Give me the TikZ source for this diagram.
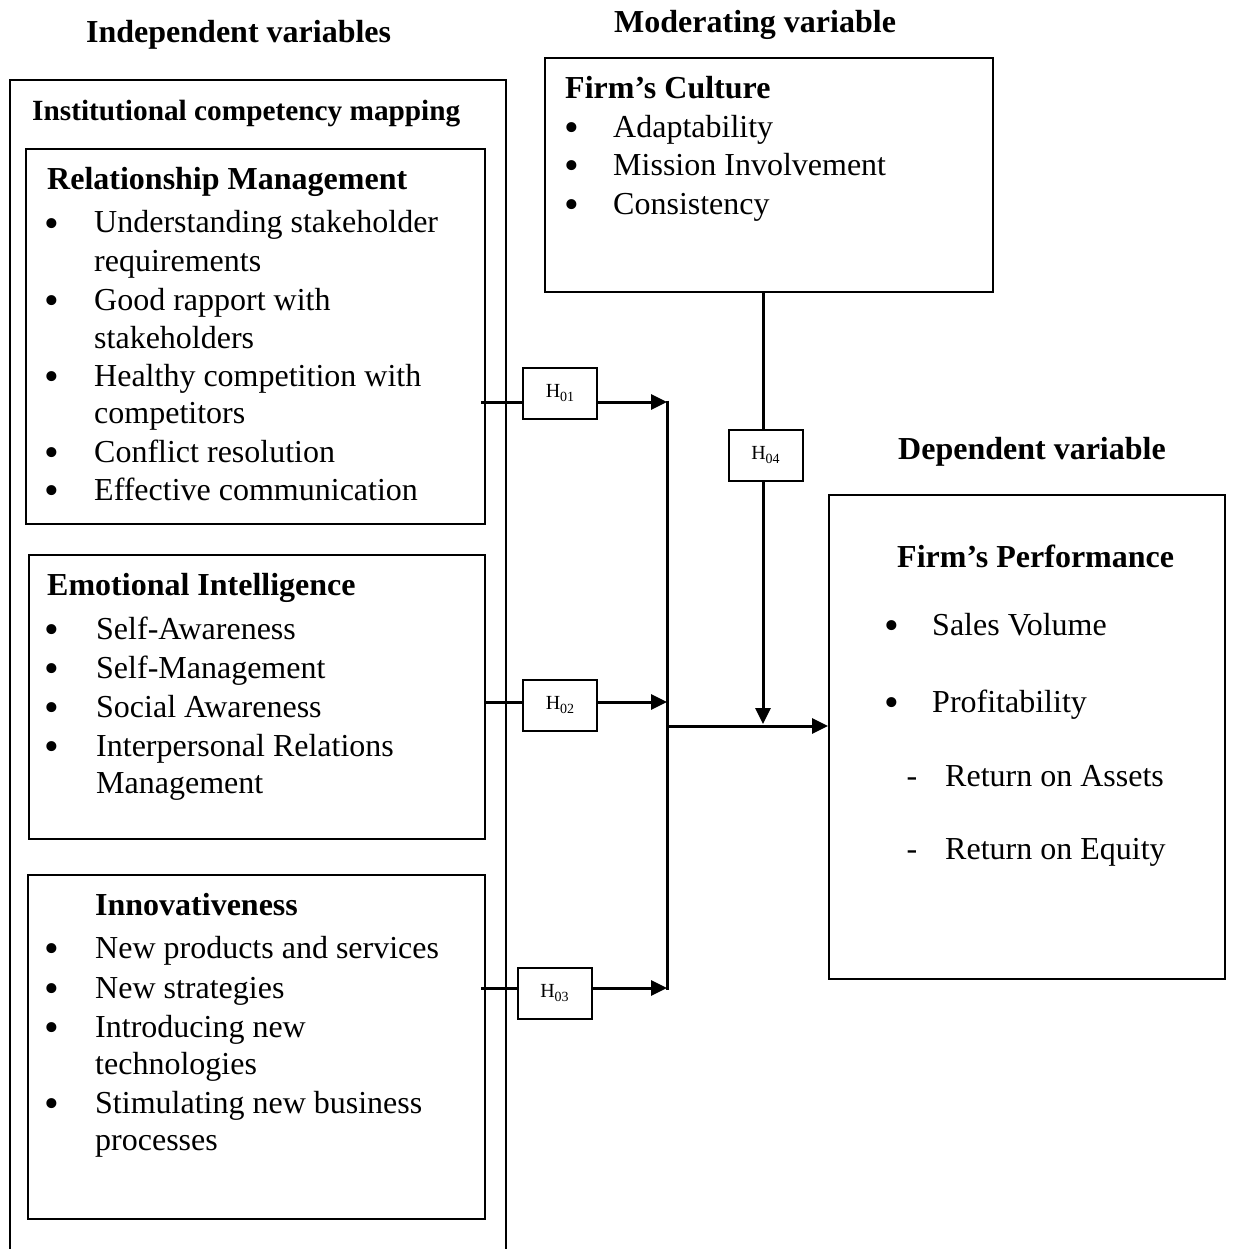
\documentclass[tikz,border=0pt]{standalone}
\usepackage{fontspec}
\setmainfont{Liberation Serif}
\usetikzlibrary{arrows.meta}
\newcommand{\hlab}[1]{H\raisebox{-4pt}{\fontsize{14}{15}\selectfont #1}}
\begin{document}
\begin{tikzpicture}[x=1pt,y=-1pt,
  box/.style={draw=black, line width=2pt, rectangle, inner sep=0pt, anchor=north west},
  conn/.style={line width=3pt},
  arr/.style={conn, -{Triangle[length=16pt,width=15pt]}},
  hbox/.style={draw=black, line width=2pt, fill=white, minimum width=74pt, minimum height=51pt, inner sep=0pt, font=\fontsize{20}{22}\selectfont},
  txt/.style={anchor=base west, inner sep=0pt, font=\fontsize{32}{38}\selectfont},
  hd/.style={anchor=base west, inner sep=0pt, font=\fontsize{32}{38}\selectfont\bfseries},
  hds/.style={anchor=base west, inner sep=0pt, font=\fontsize{29.3}{34}\selectfont\bfseries},
  bul/.style={anchor=base, inner sep=0pt, yshift=-4pt, font=\fontsize{42}{44}\selectfont},
  dsh/.style={anchor=base, inner sep=0pt, font=\fontsize{32}{38}\selectfont},
]
\useasboundingbox (0,0) rectangle (1232,1249);

% outer (open) box
\draw[line width=2pt] (10,1249) -- (10,80) -- (506,80) -- (506,1249);

% boxes
\node[box, minimum width=459pt, minimum height=375pt] (rm) at (25,148) {};
\node[box, minimum width=456pt, minimum height=284pt] (ei) at (28,554) {};
\node[box, minimum width=457pt, minimum height=344pt] (inn) at (27,874) {};
\node[box, minimum width=448pt, minimum height=234pt] (cul) at (544,57) {};
\node[box, minimum width=396pt, minimum height=484pt] (perf) at (828,494) {};

% titles
\node[hd] (ti1) at (86,43) {Independent variables};
\node[hd] (ti2) at (614,33) {Moderating variable};
\node[hds] (ti3) at (32,121) {Institutional competency mapping};
\node[hd] (ti4) at (898,459) {Dependent variable};

% Relationship Management
\node[hd] (rmh) at (47,190) {Relationship Management};
\node[bul] (rb1) at (52,233) {•};
\node[txt] (rt1) at (94,233) {Understanding stakeholder};
\node[txt] (rt1b) at (94,271) {requirements};
\node[bul] (rb2) at (52,310) {•};
\node[txt] (rt2) at (94,310) {Good rapport with};
\node[txt] (rt2b) at (94,348) {stakeholders};
\node[bul] (rb3) at (52,386) {•};
\node[txt] (rt3) at (94,386) {Healthy competition with};
\node[txt] (rt3b) at (94,423) {competitors};
\node[bul] (rb4) at (52,462) {•};
\node[txt] (rt4) at (94,462) {Conflict resolution};
\node[bul] (rb5) at (52,500) {•};
\node[txt] (rt5) at (94,500) {Effective communication};

% Emotional Intelligence
\node[hd] (eih) at (47,595) {Emotional Intelligence};
\node[bul] (eb1) at (52,639) {•};
\node[txt] (et1) at (96,639) {Self-Awareness};
\node[bul] (eb2) at (52,678) {•};
\node[txt] (et2) at (96,678) {Self-Management};
\node[bul] (eb3) at (52,717) {•};
\node[txt] (et3) at (96,717) {Social Awareness};
\node[bul] (eb4) at (52,756) {•};
\node[txt] (et4) at (96,756) {Interpersonal Relations};
\node[txt] (et4b) at (96,793) {Management};

% Innovativeness
\node[hd] (inh) at (95,915) {Innovativeness};
\node[bul] (ib1) at (52,958) {•};
\node[txt] (it1) at (95,958) {New products and services};
\node[bul] (ib2) at (52,998) {•};
\node[txt] (it2) at (95,998) {New strategies};
\node[bul] (ib3) at (52,1037) {•};
\node[txt] (it3) at (95,1037) {Introducing new};
\node[txt] (it3b) at (95,1074) {technologies};
\node[bul] (ib4) at (52,1113) {•};
\node[txt] (it4) at (95,1113) {Stimulating new business};
\node[txt] (it4b) at (95,1150) {processes};

% Firm's Culture
\node[hd] (culh) at (565,99) {Firm’s Culture};
\node[bul] (cb1) at (572,138) {•};
\node[txt] (ct1) at (613,138) {Adaptability};
\node[bul] (cb2) at (572,176) {•};
\node[txt] (ct2) at (613,176) {Mission Involvement};
\node[bul] (cb3) at (572,215) {•};
\node[txt] (ct3) at (613,215) {Consistency};

% Firm's Performance
\node[hd] (pfh) at (897,567) {Firm’s Performance};
\node[bul] (pb1) at (892,635) {•};
\node[txt] (pt1) at (932,635) {Sales Volume};
\node[bul] (pb2) at (892,712) {•};
\node[txt] (pt2) at (932,712) {Profitability};
\node[dsh] (pd1) at (912,786) {-};
\node[txt] (pt3) at (945,786) {Return on Assets};
\node[dsh] (pd2) at (912,859) {-};
\node[txt] (pt4) at (945,859) {Return on Equity};

% hypothesis boxes
\node[hbox] (h1) at (560,393) {\hlab{01}};
\node[hbox] (h2) at (560,705) {\hlab{02}};
\node[hbox] (h3) at (554.5,993) {\hlab{03}};
\node[hbox] (h4) at (765.5,455) {\hlab{04}};

% connector points
\coordinate (s1) at (481,402); \coordinate (j1) at (667,402);
\coordinate (s2) at (486,702); \coordinate (j2) at (667,702);
\coordinate (s3) at (481,988); \coordinate (j3) at (667,988);
\coordinate (jm) at (667,726);
\coordinate (m0) at ([xshift=-6pt]cul.south);

\draw[conn] (s1) -- (h1.west |- s1);
\draw[arr] (h1.east |- s1) -- (j1);
\draw[conn] (s2) -- (h2.west |- s2);
\draw[arr] (h2.east |- s2) -- (j2);
\draw[conn] (s3) -- (h3.west |- s3);
\draw[arr] (h3.east |- s3) -- (j3);
\draw[conn] ([yshift=1.5pt]j1) -- ([yshift=-1.5pt]j3);
\draw[arr] (jm) -- (perf.west |- jm);
\draw[conn] (m0) -- (m0 |- h4.north);
\draw[arr, shorten >=2pt] (m0 |- h4.south) -- (m0 |- jm);
\end{tikzpicture}
\end{document}
